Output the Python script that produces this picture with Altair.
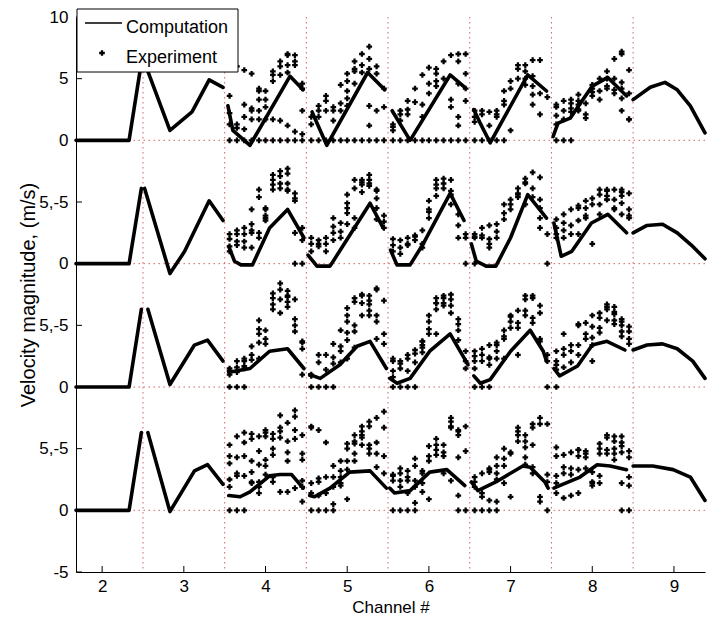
import altair as alt
import pandas as pd

# ---------------- data ----------------
CHANNELS = [4, 5, 6, 7, 8]
COL_OFFSETS = [-0.44, -0.35, -0.26, -0.17, -0.08, 0.0, 0.09, 0.18, 0.27, 0.36, 0.45]
ROW_SHIFT = [0, -10, -20, -30]

X_TICKS = [2, 3, 4, 5, 6, 7, 8, 9]
Y_TICKS = [10, 5, 0, -5, -10, -15, -20, -25, -30, -35]
CHANNEL_BOUNDS = [2.5, 3.5, 4.5, 5.5, 6.5, 7.5, 8.5]
ZERO_LINES = [0, -10, -20, -30]

# Experiment: per channel, per measuring column, values (m/s)
EXP_ROW1 = {
    4: [[0, 1.3, 2.2, 3.6], [0, 1.3, 1.0, 6.0], [0, 0.9, 1.9, 2.9, 5.7], [0, 1.7, 2.4, 2.6, 5.4],
        [0, 2.4, 4.2, 4.0, 3.3, 1.7], [0, 2.7, 4.0, 3.3, 1.7], [0, 5.6, 5.3, 4.8, 1.7],
        [0, 6.0, 6.4, 5.3, 1.6], [0, 7.0, 6.9, 6.1, 5.5, 1.2], [0, 6.9, 6.4, 6.1, 0.7], [0, 4.2, 2.4, 0.5, 4.6]],
    5: [[0, 1.9, 1.3], [0, 2.8, 1.9, 2.4], [0, 3.6, 2.4, 3.2], [0, 1.6, 2.7, 2.4], [0, 4.5, 2.4, 3.0],
        [0, 5.4, 4.8, 4.0, 3.4, 2.8], [0, 5.6, 6.4, 5.8, 4.6], [0, 7.0, 6.1, 5.5],
        [0, 7.6, 6.6, 5.8, 2.8, 1.2], [0, 5.4, 6.0, 2.4], [0, 4.2, 2.7]],
    6: [[0, 1.3, 1.1, 0.8], [0, 2.1, 2.4, 1.6], [0, 2.5, 3.2, 2.1], [0, 4.2, 3.1], [0, 2.9, 1.9, 5.3],
        [0, 4.6, 3.8, 5.9], [0, 5.4, 4.8, 4.4, 5.8], [0, 6.4, 5.0], [0, 6.9, 3.3, 2.7],
        [0, 6.4, 7.0, 1.9, 1.2, 4.6], [0, 7.0, 5.4, 4.2, 3.2]],
    7: [[0, 2.4, 1.9, 1.5], [0, 2.1, 2.4], [0, 1.2, 2.3], [0, 2.4, 1.9, 2.1], [0, 4.0, 3.2, 2.9],
        [4.8, 4.2, 0.8], [5.0, 6.1, 5.8], [6.1, 5.6, 5.0, 4.5], [6.5, 5.2, 4.4, 3.7, 2.9],
        [6.5, 3.8, 2.1], [3.5]],
    8: [[0, 2.7, 2.0, 1.3, 2.9], [0, 3.2, 2.4, 1.7], [0, 3.0, 2.6, 3.3, 2.3], [2.9, 2.5, 3.2, 2.4, 3.7],
        [1.8, 3.0, 2.1], [4.2, 3.9, 4.5, 3.6], [3.3, 4.0, 5.0], [5.6, 5.0, 4.2, 4.4],
        [6.6, 5.0, 4.1, 3.8], [7.2, 4.7, 2.4, 7.0, 4.2, 3.4], [1.7, 5.7, 3.8, 1.7]],
}
EXP_ROW2 = {
    4: [[1.0, 2.4, 1.4, 2.0], [2.7, 1.8, 2.4, 1.5], [2.9, 1.8, 2.4, 1.3], [4.4, 3.2, 2.7, 1.3, 2.5],
        [2.5, 2.1, 6.0, 5.4], [4.4, 3.7, 4.5, 3.9, 3.5], [7.2, 6.8, 6.4, 6.0], [7.5, 7.1, 6.5, 6.1],
        [7.7, 6.0, 7.3, 6.5, 5.9], [0, 5.3, 5.7, 5.1, 2.5], [0, 2.9, 1.9]],
    5: [[2.1, 1.6, 1.0], [1.4, 1.9, 1.6], [1.6, 1.0, 2.1], [2.5, 1.9, 3.7, 3.0], [2.6, 2.1, 3.3],
        [5.6, 4.9, 4.5, 4.1, 3.2], [3.7, 2.9, 6.8, 6.1], [6.4, 6.8, 6.6, 5.8], [6.8, 6.5, 7.2, 6.3],
        [6.0, 5.3, 4.5, 3.6, 5.9], [3.9, 2.9, 3.4]],
    6: [[1.5, 1.0, 2.0], [1.3, 1.9, 0.8], [2.1, 1.5, 1.6], [2.3, 2.2, 1.9], [1.3, 1.6, 2.7],
        [5.1, 4.4, 3.7, 4.2], [6.8, 6.1, 6.4, 5.5], [6.9, 6.5, 6.1], [5.9, 6.8, 5.6, 4.8],
        [4.0, 3.1, 2.1], [0, 2.4, 2.1]],
    7: [[0, 2.1, 2.2, 2.4], [2.1, 2.3, 2.9], [2.0, 3.1, 1.6, 1.3], [3.2, 2.6, 2.1], [4.1, 3.6, 4.8],
        [5.2, 4.4, 4.8], [5.6, 5.4, 5.7, 6.1], [6.5, 4.8, 6.6, 6.9], [7.4, 6.1, 5.4],
        [7.0, 5.2, 4.5, 3.7, 2.9], [0, 2.4]],
    8: [[3.6, 2.9, 2.4, 2.1], [3.3, 2.7, 2.1, 4.0], [4.4, 3.1, 2.4], [4.7, 3.5, 2.4, 4.5],
        [3.9, 4.5, 3.7, 5.1], [1.6, 5.3, 4.8], [4.8, 5.6, 6.0, 4.0], [5.5, 6.0, 5.2, 5.9, 5.2],
        [4.5, 6.0, 5.2, 4.4], [5.8, 5.5, 4.9, 6.0, 4.0], [4.4, 3.7, 5.7, 3.9]],
}
EXP_ROW3 = {
    4: [[0, 1.5, 1.3, 1.0], [0, 2.1, 1.6, 1.2], [0, 2.1, 1.7, 1.5, 2.3], [3.3, 2.6, 2.2],
        [2.3, 5.4, 4.7, 4.3, 3.6], [4.6, 3.9, 3.5], [7.2, 6.7, 7.6, 6.3], [6.0, 7.1, 8.4, 7.9],
        [7.4, 6.9, 7.8, 7.3, 6.5], [7.1, 5.5, 5.0, 4.5], [3.7, 3.1, 1.0, 3.6]],
    5: [[0, 1.0, 0.9], [0, 2.6, 2.0], [0, 2.6, 1.4], [0, 3.5, 1.9, 2.4], [4.6, 2.9, 2.0, 3.3],
        [6.4, 5.8, 5.3, 4.4, 3.8, 2.3], [7.2, 5.0, 6.9, 4.5, 3.2], [7.4, 6.8, 5.8, 7.5],
        [7.0, 5.8, 7.4, 6.7, 6.2], [7.9, 5.8, 5.3, 8.0, 3.9], [7.0, 4.3, 3.5]],
    6: [[0, 1.3, 2.1, 2.3, 0.8], [0, 1.5, 2.1, 1.9], [0, 1.3, 2.3, 2.6], [0, 2.7, 2.0, 3.0],
        [3.7, 3.2, 3.4, 2.8, 3.7], [5.8, 5.3, 4.7, 4.3], [4.3, 6.8, 7.2, 6.8, 6.3],
        [7.2, 6.8, 7.4, 6.6], [7.5, 7.1, 6.6, 6.0], [5.5, 5.1, 4.6, 3.8], [2.9, 2.1, 1.5]],
    7: [[0, 2.9, 2.5, 2.1, 1.5], [0, 2.6, 2.1, 3.1], [0, 2.4, 3.4, 2.3, 1.8], [3.4, 2.9, 2.3, 3.6],
        [4.6, 4.1, 3.9, 2.3], [5.7, 5.3, 4.8, 5.8], [5.2, 4.8, 2.6, 6.2], [7.1, 5.8, 7.4, 6.2],
        [5.6, 5.2, 7.2, 7.4], [6.0, 6.6, 3.9, 3.7], [2.6, 2.1, 0]],
    8: [[2.9, 1.8, 1.4, 2.1, 0], [4.3, 3.1, 2.6, 1.6], [3.4, 2.9, 2.0], [5.0, 3.4, 2.6, 5.1],
        [3.9, 4.3, 5.2], [5.8, 4.9, 4.0, 3.4, 2.1], [6.0, 5.6, 4.8, 4.4], [6.7, 6.3, 5.4, 6.5],
        [5.9, 5.4, 5.1, 6.5, 6.1], [5.5, 5.0, 4.5, 4.1, 5.3], [4.9, 3.9, 4.5, 3.5]],
}
EXP_ROW4 = {
    4: [[0, 3.8, 4.4, 5.3, 1.9, 2.5], [0, 6.0, 4.3, 2.8, 3.0], [0, 6.3, 5.5, 2.8, 4.4],
        [5.8, 2.2, 6.2, 4.0, 3.1, 2.3], [4.8, 6.0, 3.7, 1.9, 1.4, 2.3], [6.0, 4.1, 3.6, 2.9, 6.3, 6.5],
        [5.0, 4.5, 2.7, 2.3, 5.8, 6.2], [6.4, 6.7, 5.9, 1.5, 7.7], [5.6, 4.7, 7.1, 4.0, 1.5],
        [8.1, 6.5, 5.8, 1.8, 7.6], [6.1, 4.6, 2.4, 1.9, 4.1, 0.7]],
    5: [[0, 6.7, 2.2, 1.4, 6.8], [0, 6.5, 1.2, 2.3, 2.6], [0, 5.5, 2.7, 1.4], [0, 2.7, 3.6, 0.5, 1.9],
        [4.0, 3.2, 2.2, 2.0, 2.7], [5.4, 5.0, 4.0, 0.9, 3.3], [5.6, 6.1, 4.0, 4.6, 5.4],
        [5.9, 6.4, 5.3, 6.1, 6.8], [6.8, 5.0, 5.3, 4.6, 7.2], [7.5, 5.5, 4.6, 3.5], [8.0, 6.7, 4.4, 3.0]],
    6: [[0, 2.8, 2.9, 2.4], [0, 2.4, 1.9, 3.0, 3.4], [0, 2.7, 3.2, 2.4, 1.4], [0, 3.6, 2.4, 1.9, 4.2, 0.6],
        [3.0, 3.2, 2.2, 1.5], [5.2, 4.4, 4.0, 0.9], [4.9, 5.3, 5.8, 4.5], [4.4, 3.0, 5.3, 4.7],
        [6.7, 2.4, 7.2, 6.8, 7.5], [0, 6.4, 6.1, 6.5, 4.3, 1.2], [0, 6.8, 4.8]],
    7: [[0, 2.7, 2.3, 1.9], [0, 1.4, 3.0, 1.1], [0, 3.1, 0.8, 3.3, 3.4], [0, 0.7, 3.6, 3.0, 4.3, 2.5],
        [2.2, 5.0, 4.2, 3.6], [4.6, 1.1, 4.7], [6.4, 6.1, 5.6, 6.7], [5.1, 6.1, 5.6, 4.3, 3.7],
        [6.7, 5.3, 3.0, 3.5, 7.0], [7.0, 1.1, 7.5, 0.7], [0, 7.0, 2.3, 2.9]],
    8: [[5.1, 2.8, 2.2, 1.4, 4.4], [3.5, 4.5, 1.0, 3.0], [4.7, 2.9, 3.4, 1.2], [4.9, 3.3, 1.4, 4.4, 4.9],
        [4.6, 4.3, 3.4, 4.8], [2.0, 3.1, 2.3, 2.2], [5.4, 5.0, 4.6, 2.2, 2.8], [4.9, 5.9, 4.6, 6.1],
        [4.1, 5.0, 4.6, 6.0, 5.6], [0, 6.0, 4.7, 5.5, 2.2, 5.2], [0, 4.8, 4.3, 2.7, 2.0]],
}

# Computation: segments of (channel position, velocity)
COMP_ROW1 = [
    [(1.68, 0), (2.33, 0), (2.48, 6.3)],
    [(2.52, 6.3), (2.83, 0.8), (3.10, 2.3), (3.31, 4.9), (3.48, 4.3)],
    [(3.54, 2.8), (3.60, 0.8), (3.81, -0.4), (4.30, 5.2), (4.46, 4.1)],
    [(4.57, 2.3), (4.75, -0.4), (5.25, 5.5), (5.46, 4.1)],
    [(5.55, 2.4), (5.77, 0.0), (6.26, 5.3), (6.44, 4.3)],
    [(6.55, 2.5), (6.62, 1.5), (6.75, -0.2), (7.21, 5.3), (7.44, 4.0)],
    [(7.52, 0.3), (7.58, 1.4), (7.73, 1.8), (8.00, 4.4), (8.19, 5.1), (8.42, 3.6)],
    [(8.50, 3.3), (8.71, 4.3), (8.89, 4.7), (9.04, 4.1), (9.20, 2.8), (9.38, 0.6)],
]
COMP_ROW2 = [
    [(1.68, 0), (2.33, 0), (2.48, 6.1)],
    [(2.52, 6.1), (2.83, -0.8), (3.01, 1.0), (3.31, 5.1), (3.48, 3.5)],
    [(3.55, 1.4), (3.62, 0.2), (3.70, -0.1), (3.84, -0.1), (4.05, 2.9), (4.27, 4.4), (4.47, 2.1)],
    [(4.52, 0.7), (4.63, -0.2), (4.79, -0.2), (5.28, 4.9), (5.44, 2.9)],
    [(5.53, 1.1), (5.61, -0.1), (5.77, -0.1), (5.93, 1.6), (6.26, 5.7), (6.43, 3.5)],
    [(6.52, 1.6), (6.58, 0.2), (6.70, -0.2), (6.82, -0.2), (7.00, 2.1), (7.21, 5.6), (7.44, 3.7)],
    [(7.53, 3.3), (7.62, 0.6), (7.75, 1.0), (7.99, 3.3), (8.19, 4.0), (8.42, 2.5)],
    [(8.50, 2.5), (8.67, 3.1), (8.86, 3.2), (9.04, 2.5), (9.23, 1.4), (9.38, 0.4)],
]
COMP_ROW3 = [
    [(1.68, 0), (2.33, 0), (2.48, 6.3)],
    [(2.56, 6.3), (2.83, 0.2), (3.13, 3.4), (3.29, 3.8), (3.48, 2.1)],
    [(3.55, 1.2), (3.81, 1.5), (4.05, 2.9), (4.27, 3.1), (4.47, 1.5)],
    [(4.54, 1.0), (4.67, 0.7), (4.91, 1.8), (5.12, 3.3), (5.28, 3.7), (5.48, 1.5)],
    [(5.52, 0.7), (5.61, 0.3), (5.77, 0.7), (6.01, 2.9), (6.26, 4.3), (6.48, 1.8)],
    [(6.55, 0.9), (6.63, 0.3), (6.75, 0.6), (7.00, 2.9), (7.24, 4.6), (7.40, 2.9), (7.44, 2.1)],
    [(7.53, 1.5), (7.60, 0.9), (7.82, 1.7), (8.00, 3.4), (8.18, 3.7), (8.40, 3.0)],
    [(8.50, 3.0), (8.67, 3.4), (8.86, 3.5), (9.04, 3.1), (9.23, 2.1), (9.38, 0.7)],
]
COMP_ROW4 = [
    [(1.68, 0), (2.33, 0), (2.48, 6.3)],
    [(2.56, 6.3), (2.83, -0.1), (3.13, 3.2), (3.29, 3.7), (3.48, 2.1)],
    [(3.55, 1.2), (3.69, 1.1), (3.81, 1.5), (4.05, 2.8), (4.18, 2.9), (4.32, 2.9), (4.46, 1.8)],
    [(4.54, 1.2), (4.60, 1.1), (4.79, 1.8), (5.03, 3.1), (5.28, 3.2), (5.48, 1.8)],
    [(5.52, 1.8), (5.58, 1.4), (5.77, 1.6), (6.01, 3.1), (6.22, 3.3), (6.44, 2.0)],
    [(6.52, 2.3), (6.60, 1.6), (6.82, 2.3), (7.15, 3.6), (7.24, 3.5), (7.42, 2.3), (7.46, 1.8)],
    [(7.53, 1.8), (7.60, 2.0), (7.85, 2.7), (8.06, 3.7), (8.22, 3.6), (8.42, 3.3)],
    [(8.50, 3.6), (8.74, 3.6), (8.99, 3.3), (9.20, 2.7), (9.38, 0.8)],
]

# ---------------- tables ----------------
exp_records = []
for r, exp in enumerate([EXP_ROW1, EXP_ROW2, EXP_ROW3, EXP_ROW4]):
    for c in CHANNELS:
        for k, col in enumerate(exp[c]):
            for v in col:
                exp_records.append({"x": c + COL_OFFSETS[k], "y": v + ROW_SHIFT[r]})
exp_df = pd.DataFrame(exp_records)

comp_records = []
for r, segs in enumerate([COMP_ROW1, COMP_ROW2, COMP_ROW3, COMP_ROW4]):
    for s, seg in enumerate(segs):
        for o, (x, v) in enumerate(seg):
            comp_records.append({"x": x, "y": v + ROW_SHIFT[r], "seg": f"{r}-{s}", "o": o})
comp_df = pd.DataFrame(comp_records)

W, H = 629, 555
FONT = "Liberation Sans"
XS = alt.Scale(domain=[1.68, 9.38], nice=False, zero=False)
YS = alt.Scale(domain=[-35, 10], nice=False, zero=False)
GRID = "#d04545"

label_expr = ("datum.value == 10 ? '10' : datum.value == 5 ? '5' : datum.value == -35 ? '-5' : "
              "(datum.value % 10 == 0 ? '0' : '5,-5')")

X_AXIS = alt.Axis(values=X_TICKS, ticks=False, grid=False, format="d", labelPadding=6,
                  title="Channel #", titleY=35, titleBaseline="middle", titleX=W / 2,
                  titleFontSize=17)
Y_AXIS = alt.Axis(values=Y_TICKS, ticks=False, grid=False, labelExpr=label_expr, labelPadding=8,
                  title="Velocity magnitude, (m/s)", titleX=-48, titleY=H / 2,
                  titleAlign="center", titleBaseline="middle", titleAngle=270,
                  titleFontSize=20)


def X(field):
    return alt.X(field, scale=XS, axis=X_AXIS, title="Channel #")


def Y(field):
    return alt.Y(field, scale=YS, axis=Y_AXIS, title="Velocity magnitude, (m/s)")


vgrid = alt.Chart(pd.DataFrame({"v": CHANNEL_BOUNDS})).mark_rule(
    color=GRID, strokeDash=[1.5, 3.5], strokeWidth=1, opacity=0.85
).encode(x=X("v:Q"))

hgrid = alt.Chart(pd.DataFrame({"v": ZERO_LINES})).mark_rule(
    color=GRID, strokeDash=[1.5, 3.5], strokeWidth=1, opacity=0.85
).encode(y=Y("v:Q"))

lines = alt.Chart(comp_df).mark_line(
    color="black", strokeWidth=3.6, strokeJoin="round", strokeCap="round"
).encode(x=X("x:Q"), y=Y("y:Q"), detail="seg:N", order="o:Q")

points = alt.Chart(exp_df).mark_point(
    shape="cross", filled=True, size=32, color="black", opacity=1
).encode(x=X("x:Q"), y=Y("y:Q"))

yticks = alt.Chart(pd.DataFrame({"v": Y_TICKS})).mark_rule(color="black", strokeWidth=1).encode(
    y=Y("v:Q"), x=alt.value(0), x2=alt.value(6))
xticks = alt.Chart(pd.DataFrame({"v": X_TICKS})).mark_rule(color="black", strokeWidth=1).encode(
    x=X("v:Q"), y=alt.value(H), y2=alt.value(H - 6))

one = pd.DataFrame({"k": [0]})
leg_box = alt.Chart(one).mark_rect(fill="white", stroke="black", strokeWidth=1).encode(
    x=alt.value(1), x2=alt.value(162), y=alt.value(-8), y2=alt.value(55))
leg_line = alt.Chart(one).mark_rule(color="black", strokeWidth=1.4).encode(
    x=alt.value(9), x2=alt.value(46), y=alt.value(6))
leg_pt = alt.Chart(one).mark_point(shape="cross", filled=True, size=32, color="black", opacity=1).encode(
    x=alt.value(26), y=alt.value(36))
leg_t1 = alt.Chart(one).mark_text(text="Computation", align="left", baseline="middle",
                                  font=FONT, fontSize=18, color="black").encode(
    x=alt.value(50), y=alt.value(11))
leg_t2 = alt.Chart(one).mark_text(text="Experiment", align="left", baseline="middle",
                                  font=FONT, fontSize=18, color="black").encode(
    x=alt.value(50), y=alt.value(41))

chart = alt.layer(
    vgrid, hgrid, lines, points, yticks, xticks, leg_box, leg_line, leg_pt, leg_t1, leg_t2
).properties(
    width=W, height=H,
    autosize=alt.AutoSizeParams(type="none"),
    padding={"left": 68, "top": 9, "right": 2, "bottom": 50},
).configure_view(strokeWidth=0).configure_axis(
    domainColor="black", domainWidth=1,
    labelFont=FONT, labelFontSize=17, labelColor="black",
    titleFont=FONT, titleFontWeight="normal", titleColor="black",
)

chart.save("out.html", embed_options={"renderer": "svg", "actions": False})
